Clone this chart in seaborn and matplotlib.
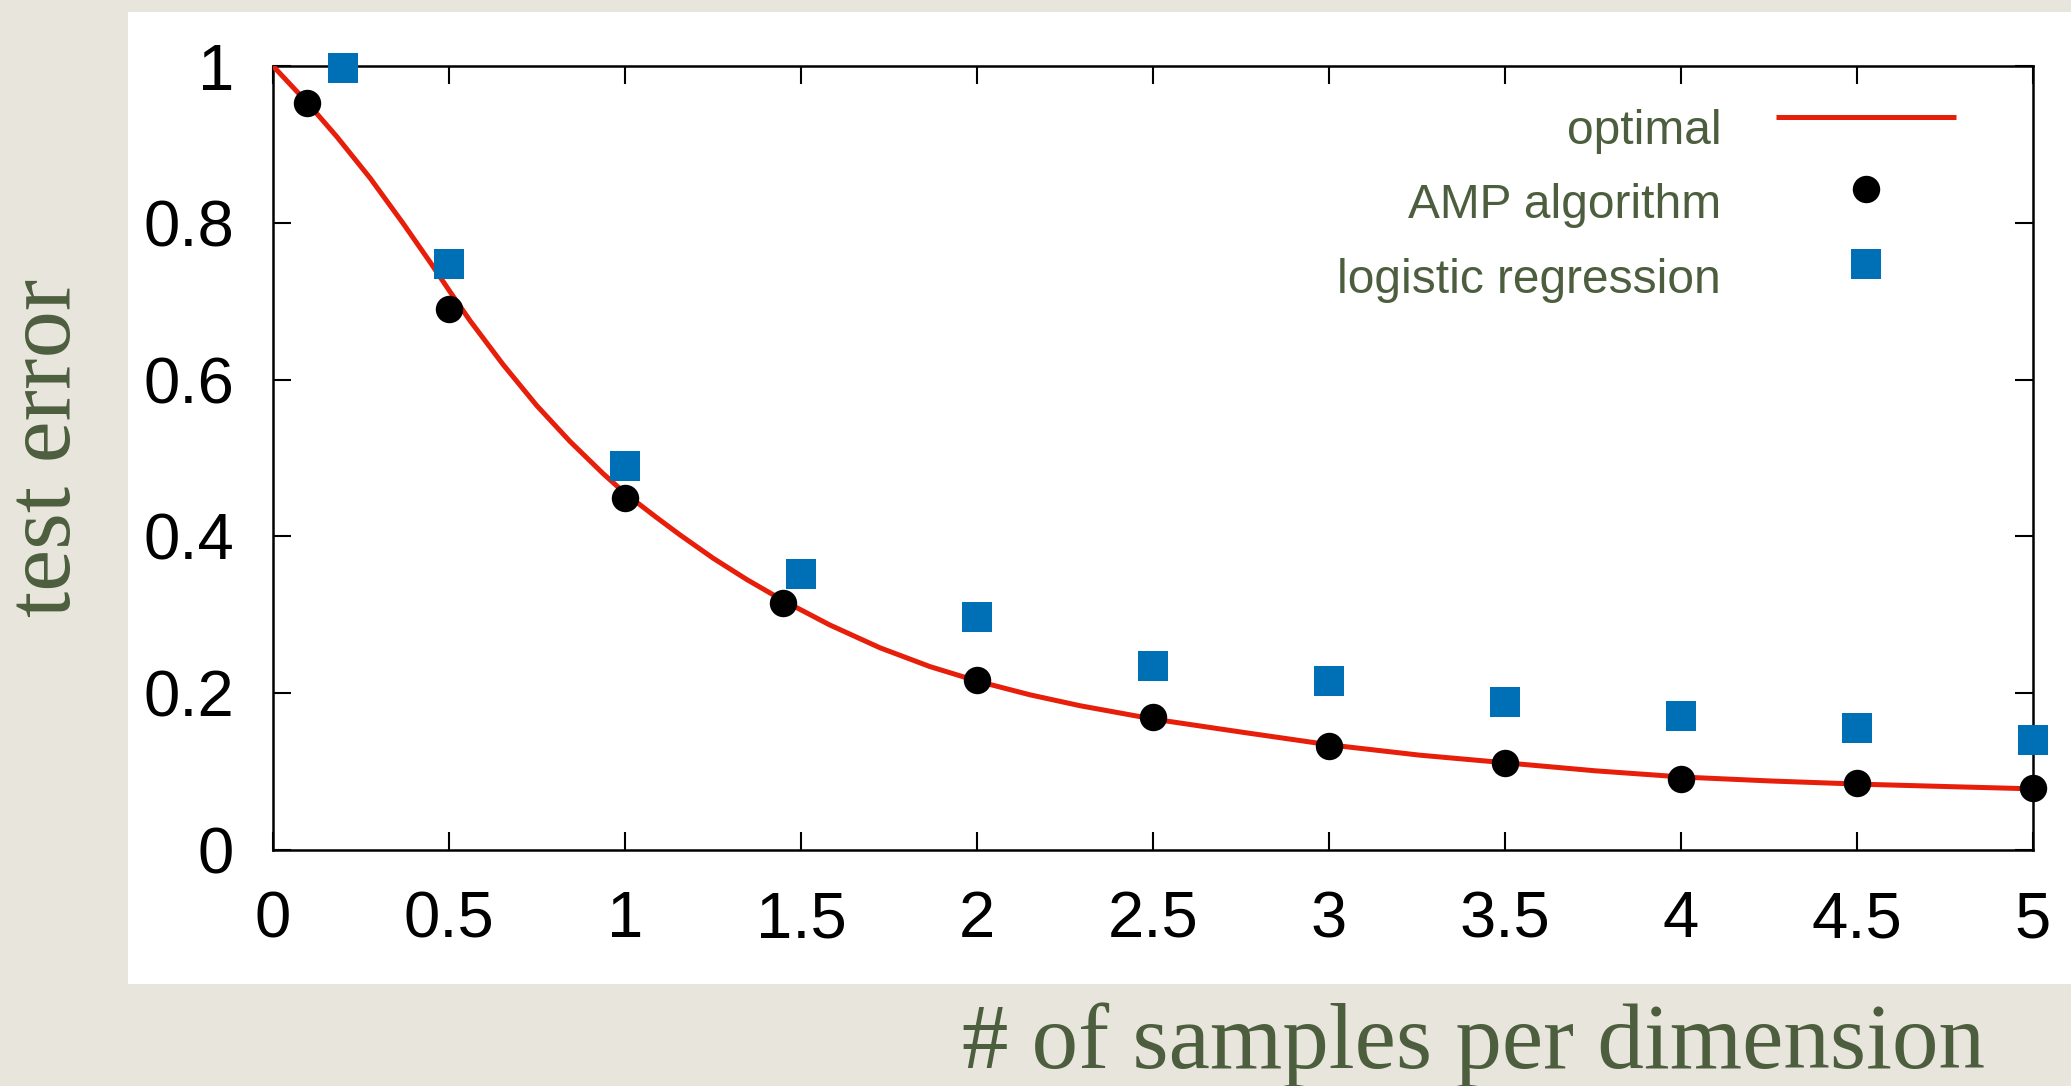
import matplotlib
matplotlib.use("Agg")
import matplotlib.pyplot as plt
from matplotlib.patches import Rectangle
import seaborn as sns

# ---------------- data ----------------
opt_x = [0.0, 0.096, 0.181, 0.276, 0.370, 0.446, 0.503, 0.560, 0.654, 0.749, 0.844,
         0.938, 1.0, 1.09, 1.156, 1.251, 1.346, 1.45, 1.582, 1.724, 1.866, 2.004,
         2.15, 2.293, 2.501, 2.757, 3.004, 3.257, 3.507, 3.757, 4.007, 4.257, 4.507,
         4.749, 5.0]
opt_y = [1.0, 0.954, 0.910, 0.857, 0.799, 0.750, 0.712, 0.675, 0.619, 0.567, 0.521,
         0.480, 0.455, 0.424, 0.402, 0.372, 0.345, 0.318, 0.287, 0.258, 0.234, 0.215,
         0.198, 0.184, 0.167, 0.150, 0.134, 0.121, 0.111, 0.101, 0.093, 0.088, 0.084,
         0.081, 0.078]

amp_x = [0.097, 0.5, 1.0, 1.45, 2.0, 2.5, 3.0, 3.5, 4.0, 4.5, 5.0]
amp_y = [0.953, 0.690, 0.449, 0.315, 0.217, 0.170, 0.133, 0.111, 0.091, 0.086, 0.079]

lr_x = [0.198, 0.5, 1.0, 1.5, 2.0, 2.5, 3.0, 3.5, 4.0, 4.5, 5.0]
lr_y = [0.997, 0.747, 0.490, 0.352, 0.297, 0.235, 0.216, 0.189, 0.171, 0.155, 0.140]

series_labels = ["optimal", "AMP algorithm", "logistic regression"]
x_ticks = [0, 0.5, 1, 1.5, 2, 2.5, 3, 3.5, 4, 4.5, 5]
x_ticklabels = ["0", "0.5", "1", "1.5", "2", "2.5", "3", "3.5", "4", "4.5", "5"]
y_ticks = [0, 0.2, 0.4, 0.6, 0.8, 1.0]
y_ticklabels = ["0", "0.2", "0.4", "0.6", "0.8", "1"]
x_label = "# of samples per dimension"
y_label = "test error"

# ---------------- style ----------------
sns.set_style("ticks")
plt.rcParams["font.family"] = ["Liberation Sans", "DejaVu Sans"]

BG = "#e8e6dc"
OLIVE = "#4d5e3e"
RED = "#e61e0a"
BLUE = "#0070b6"

fig = plt.figure(figsize=(20.71, 10.86), dpi=100, facecolor=BG)
# white slide panel (behind the axes)
fig.patches.append(Rectangle((128 / 2071, 1 - 984 / 1086), 1 - 128 / 2071,
                             (984 - 12) / 1086, transform=fig.transFigure,
                             facecolor="white", edgecolor="none", zorder=-10))

ax = fig.add_axes([273 / 2071, 236 / 1086, 1760 / 2071, 784 / 1086])
ax.set_facecolor("white")

sns.lineplot(x=opt_x, y=opt_y, ax=ax, color=RED, linewidth=3.6,
             label=series_labels[0], zorder=3, solid_joinstyle="round",
             solid_capstyle="butt")
sns.scatterplot(x=amp_x, y=amp_y, ax=ax, color="black", marker="o", s=390,
                linewidth=0, label=series_labels[1], clip_on=False, zorder=4)
sns.scatterplot(x=lr_x, y=lr_y, ax=ax, color=BLUE, marker="s", s=460,
                linewidth=0, label=series_labels[2], clip_on=False, zorder=4)

ax.set_xlim(0, 5)
ax.set_ylim(0, 1)
ax.set_xticks(x_ticks)
ax.set_xticklabels(x_ticklabels)
ax.set_yticks(y_ticks)
ax.set_yticklabels(y_ticklabels)

for sp in ax.spines.values():
    sp.set_visible(True)
    sp.set_linewidth(1.8)
    sp.set_color("black")

ax.tick_params(axis="both", direction="in", length=13, width=1.5, colors="black",
               top=True, right=True, labelsize=47)
ax.tick_params(axis="x", pad=29)
ax.tick_params(axis="y", pad=28)
for t in ax.get_xticklabels() + ax.get_yticklabels():
    t.set_fontfamily(["Liberation Sans", "DejaVu Sans"])

ax.set_xlabel(x_label, fontsize=67, color=OLIVE,
              fontfamily=["Liberation Serif", "DejaVu Serif"])
ax.xaxis.set_label_coords((1474 - 273) / 1760, (850 - 1068) / 784)
ax.xaxis.label.set_va("baseline")

ax.set_ylabel(y_label, fontsize=68, color=OLIVE,
              fontfamily=["Liberation Serif", "DejaVu Serif"])
ax.yaxis.set_label_coords((70 - 273) / 1760, (850 - 448) / 784)
ax.yaxis.label.set_va("baseline")

leg = ax.legend(loc="upper right", bbox_to_anchor=(0.956, 0.969), frameon=False,
                markerfirst=False, fontsize=34.5, labelcolor=OLIVE,
                handlelength=3.74, handletextpad=1.15, handleheight=2.1,
                labelspacing=-0.06, borderpad=0, borderaxespad=0)

fig.savefig("out.png", dpi=100, facecolor=BG)
